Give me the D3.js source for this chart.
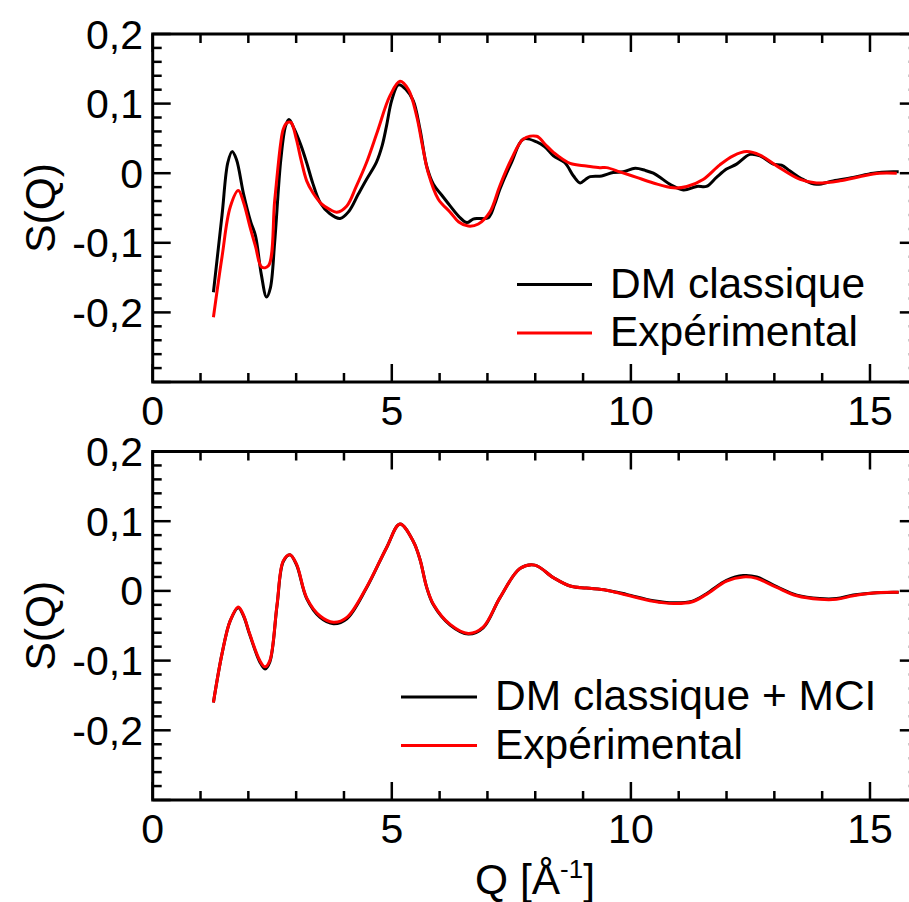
<!DOCTYPE html>
<html><head><meta charset="utf-8">
<script src="https://cdn.jsdelivr.net/npm/d3@7/dist/d3.min.js"></script>
<style>body{margin:0;background:#fff}svg{display:block}text{font-family:"Liberation Sans",Arial,sans-serif;fill:#000}</style>
</head><body>
<script>
// ---- data ----
const topDM_Q = [1.27,1.45,1.57,1.66,1.75,1.90,2.05,2.15,2.27,2.38,2.46,2.55,2.68,2.78,2.85,2.95,3.10,3.22,3.35,3.50,3.70,3.92,4.10,4.30,4.47,4.68,4.80,4.89,5.00,5.14,5.30,5.45,5.59,5.73,5.87,6.05,6.22,6.40,6.57,6.70,6.81,7.02,7.15,7.26,7.50,7.75,8.03,8.20,8.38,8.62,8.80,8.94,9.05,9.15,9.39,9.63,9.84,10.09,10.30,10.47,10.65,10.82,11.10,11.38,11.58,11.79,12.00,12.21,12.49,12.70,12.98,13.15,13.33,13.60,13.88,14.23,14.65,15.07,15.49,15.60];
const topDM_S = [-0.171,-0.06,0.015,0.031,0.020,-0.030,-0.070,-0.090,-0.145,-0.178,-0.165,-0.10,0.02,0.068,0.077,0.065,0.040,0.015,-0.015,-0.042,-0.058,-0.065,-0.055,-0.030,-0.009,0.016,0.040,0.068,0.105,0.127,0.120,0.104,0.063,0.010,-0.016,-0.032,-0.047,-0.062,-0.071,-0.066,-0.065,-0.064,-0.045,-0.023,0.015,0.049,0.045,0.038,0.025,0.015,-0.004,-0.014,-0.009,-0.005,-0.004,0.001,0.002,0.007,0.004,0.000,-0.008,-0.016,-0.024,-0.019,-0.019,-0.006,0.006,0.013,0.027,0.025,0.013,0.0115,0.003,-0.009,-0.016,-0.011,-0.006,0.000,0.002,0.002];

const topExp_Q = [1.27,1.45,1.62,1.79,1.90,2.03,2.15,2.28,2.42,2.55,2.68,2.73,2.80,2.89,3.00,3.10,3.22,3.35,3.53,3.70,3.85,4.06,4.25,4.47,4.70,4.96,5.17,5.35,5.52,5.64,5.76,5.97,6.22,6.40,6.60,6.81,7.05,7.26,7.50,7.75,8.03,8.20,8.38,8.73,9.07,9.35,9.49,9.77,10.12,10.47,10.89,11.17,11.51,11.86,12.14,12.42,12.70,13.05,13.54,13.88,14.37,14.78,15.20,15.56];
const topExp_S = [-0.207,-0.12,-0.049,-0.025,-0.042,-0.076,-0.105,-0.135,-0.133,-0.04,0.045,0.063,0.072,0.073,0.050,0.020,-0.011,-0.028,-0.044,-0.052,-0.056,-0.047,-0.020,0.015,0.060,0.111,0.132,0.120,0.082,0.040,0.001,-0.037,-0.056,-0.070,-0.076,-0.073,-0.056,-0.018,0.020,0.049,0.053,0.042,0.030,0.014,0.0105,0.008,0.008,0.002,-0.006,-0.014,-0.021,-0.019,-0.009,0.012,0.025,0.031,0.026,0.0105,-0.009,-0.014,-0.011,-0.005,0.000,0.000];

const botQ = [1.27,1.45,1.62,1.79,1.90,2.03,2.24,2.35,2.45,2.60,2.73,2.87,3.01,3.22,3.50,3.78,4.06,4.47,4.89,5.17,5.45,5.59,5.73,5.87,6.22,6.60,6.91,7.26,7.68,7.99,8.38,8.73,9.07,9.49,9.91,10.47,10.89,11.27,11.58,12.00,12.35,12.63,13.05,13.47,13.95,14.30,14.65,15.07,15.49,15.60];
const botDM_S = [-0.160,-0.09,-0.043,-0.024,-0.036,-0.063,-0.102,-0.112,-0.102,-0.021,0.042,0.052,0.037,-0.011,-0.038,-0.047,-0.040,0.004,0.062,0.096,0.071,0.045,0.005,-0.020,-0.049,-0.062,-0.053,-0.010,0.032,0.037,0.019,0.007,0.004,0.001,-0.005,-0.014,-0.017,-0.015,-0.004,0.015,0.022,0.020,0.006,-0.006,-0.011,-0.011,-0.006,-0.003,-0.002,-0.002];
const botExp_S = [-0.160,-0.09,-0.043,-0.023,-0.035,-0.062,-0.100,-0.109,-0.100,-0.020,0.043,0.052,0.038,-0.010,-0.036,-0.045,-0.038,0.005,0.062,0.096,0.071,0.045,0.005,-0.019,-0.048,-0.061,-0.052,-0.010,0.032,0.037,0.019,0.007,0.004,0.001,-0.006,-0.015,-0.018,-0.016,-0.005,0.014,0.020,0.018,0.005,-0.007,-0.012,-0.012,-0.007,-0.003,-0.002,-0.002];

const xMajor = [0,5,10,15];
const xMajorLabels = ["0","5","10","15"];
const yMajor = [-0.2,-0.1,0,0.1,0.2];
const yMajorLabels = ["-0,2","-0,1","0","0,1","0,2"];
const legendTop = ["DM classique","Expérimental"];
const legendBot = ["DM classique + MCI","Expérimental"];
const yLabel = "S(Q)";

// ---- layout ----
const W = 909, H = 902;
const svg = d3.select("body").append("svg").attr("width",W).attr("height",H);
const x = d3.scaleLinear().domain([0,16]).range([152.7,917.8]);
const FS = 41, LFS = 42.5;

function panel(y0, y1, series, legend, legY, legX1, legX2, textX) {
  const y = d3.scaleLinear().domain([-0.3,0.2]).range([y1,y0]);
  const g = svg.append("g");
  const [xl, xr] = x.range();
  const minorX = d3.range(0,17,1), minorY = d3.range(-0.3,0.2001,0.02);
  const tk = g.append("g").attr("stroke","#000").attr("stroke-width",2.5);
  minorX.forEach(v=>{
    const L = (Math.abs(v%5)<1e-9)?18:9;
    tk.append("line").attr("x1",x(v)).attr("x2",x(v)).attr("y1",y1).attr("y2",y1-L);
    tk.append("line").attr("x1",x(v)).attr("x2",x(v)).attr("y1",y0).attr("y2",y0+L);
  });
  minorY.forEach(v=>{
    const isMaj = Math.abs(Math.round(v*10)-v*10)<1e-6;
    const L = isMaj?18:9;
    tk.append("line").attr("x1",xl).attr("x2",xl+L).attr("y1",y(v)).attr("y2",y(v));
    tk.append("line").attr("x1",xr).attr("x2",xr-L).attr("y1",y(v)).attr("y2",y(v));
  });
  g.append("rect").attr("x",xl).attr("y",y0).attr("width",xr-xl).attr("height",y1-y0)
    .attr("fill","none").attr("stroke","#000").attr("stroke-width",3);
  xMajor.forEach((v,i)=>g.append("text").attr("x",x(v)).attr("y",y1+43).attr("text-anchor","middle")
    .attr("font-size",FS).text(xMajorLabels[i]));
  yMajor.forEach((v,i)=>g.append("text").attr("x",143).attr("y",y(v)+14.5).attr("text-anchor","end")
    .attr("font-size",FS).text(yMajorLabels[i]));
  g.append("text").attr("transform",`translate(55,${(y0+y1)/2}) rotate(-90)`).attr("text-anchor","middle")
    .attr("font-size",LFS).text(yLabel);
  const line = d3.line().x(d=>x(d[0])).y(d=>y(d[1])).curve(d3.curveCatmullRom.alpha(0.5));
  series.forEach(s=>{
    g.append("path").datum(s.Q.map((q,i)=>[q,s.S[i]])).attr("d",line)
      .attr("fill","none").attr("stroke",s.color).attr("stroke-width",3).attr("stroke-linejoin","round");
  });
  legend.forEach((t,i)=>{
    const ly = legY + i*48.5;
    g.append("line").attr("x1",legX1).attr("x2",legX2).attr("y1",ly).attr("y2",ly)
      .attr("stroke",series[i].color).attr("stroke-width",3);
    g.append("text").attr("x",textX).attr("y",ly+13).attr("font-size",LFS).text(t);
  });
}

panel(34, 382,
  [{Q:topDM_Q,S:topDM_S,color:"#000"},{Q:topExp_Q,S:topExp_S,color:"#ff0000"}],
  legendTop, 284.5, 517, 592, 610);
panel(451.5, 800,
  [{Q:botQ,S:botDM_S,color:"#000"},{Q:botQ,S:botExp_S,color:"#ff0000"}],
  legendBot, 697, 401, 477, 495);

const xt = svg.append("text").attr("x",535).attr("y",894).attr("text-anchor","middle").attr("font-size",LFS);
xt.append("tspan").text("Q [Å");
xt.append("tspan").attr("font-size",26).attr("dy",-16).text("-1");
xt.append("tspan").attr("dy",16).text("]");
</script>
</body></html>
